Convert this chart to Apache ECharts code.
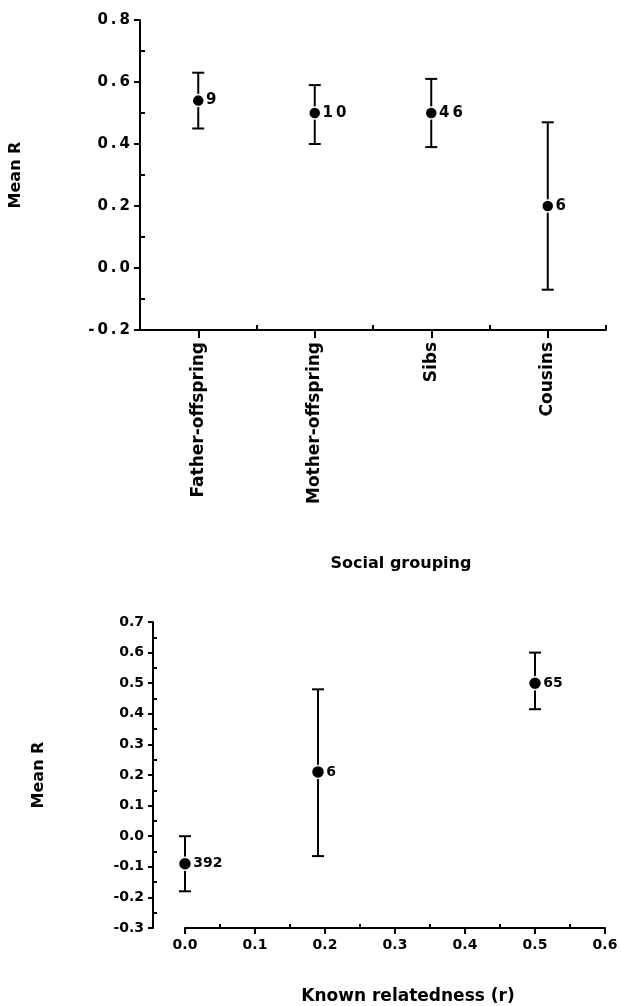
<!DOCTYPE html>
<html>
<head>
<meta charset="utf-8">
<script src="https://cdn.jsdelivr.net/npm/echarts@6/dist/echarts.min.js"></script>
<style>
  html, body { margin: 0; padding: 0; background: #fff; }
  #chart { width: 621px; height: 1006px; }
</style>
</head>
<body>
<div id="chart"></div>
<script>
// top panel: mean R by social grouping
const groups = ['Father-offspring', 'Mother-offspring', 'Sibs', 'Cousins']
const groupMean = [0.54, 0.50, 0.50, 0.20]
const groupLow = [0.45, 0.40, 0.39, -0.07]
const groupHigh = [0.63, 0.59, 0.61, 0.47]
const groupN = ['9', '10', '46', '6']

// bottom panel: mean R against known relatedness
const relR = [0.0, 0.19, 0.5]
const relMean = [-0.09, 0.21, 0.50]
const relLow = [-0.18, -0.065, 0.415]
const relHigh = [0.0, 0.48, 0.60]
const relN = ['392', '6', '65']

const ink = '#000'
const font = 'DejaVu Sans'
const spaced = (s) => String(s).split('').join('\u2009')

const chart = echarts.init(document.getElementById('chart'))

const errorBars = (xs, lows, highs, xi, yi) => ({
  type: 'custom',
  xAxisIndex: xi,
  yAxisIndex: yi,
  encode: { x: 0, y: [1, 2] },
  data: xs.map((x, i) => [x, lows[i], highs[i]]),
  z: 2,
  renderItem: (params, api) => {
    const lo = api.coord([api.value(0), api.value(1)])
    const hi = api.coord([api.value(0), api.value(2)])
    const w = 6
    const style = { stroke: ink, lineWidth: 2 }
    return {
      type: 'group',
      children: [
        { type: 'line', shape: { x1: lo[0], y1: lo[1], x2: hi[0], y2: hi[1] }, style },
        { type: 'line', shape: { x1: lo[0] - w, y1: lo[1], x2: lo[0] + w, y2: lo[1] }, style },
        { type: 'line', shape: { x1: hi[0] - w, y1: hi[1], x2: hi[0] + w, y2: hi[1] }, style }
      ]
    }
  }
})

const points = (xs, means, ns, xi, yi, size, fontSize, useSpace) => ({
  type: 'scatter',
  xAxisIndex: xi,
  yAxisIndex: yi,
  data: xs.map((x, i) => [x, means[i], ns[i]]),
  symbolSize: size,
  z: 3,
  itemStyle: { color: ink, borderColor: '#fff', borderWidth: 1.5, opacity: 1 },
  label: {
    show: true,
    position: 'right',
    distance: 1,
    color: ink,
    fontFamily: font,
    fontWeight: 'bold',
    fontSize: fontSize,
    formatter: (p) => (useSpace ? spaced(p.value[2]) : p.value[2])
  }
})

const lineStyle = { color: ink, width: 2 }
const labelBase = { color: ink, fontFamily: font, fontWeight: 'bold' }
const nameBase = { color: ink, fontFamily: font, fontWeight: 'bold' }

const option = {
  backgroundColor: '#fff',
  animation: false,
  grid: [
    { left: 138, top: 20, width: 468, height: 310, containLabel: false },
    { left: 185, top: 622, width: 420, height: 306, containLabel: false }
  ],
  xAxis: [
    {
      type: 'category',
      gridIndex: 0,
      position: 'bottom',
      data: groups,
      boundaryGap: true,
      axisLine: { onZero: false, lineStyle },
      axisTick: { show: true, alignWithLabel: true, length: 8, lineStyle },
      axisLabel: { ...labelBase, fontSize: 17, rotate: 90, margin: 12, interval: 0 },
      splitLine: { show: false },
      name: 'Social grouping',
      nameLocation: 'middle',
      nameGap: 226,
      nameTextStyle: { ...nameBase, fontSize: 16, padding: [0, 0, 0, 56] }
    },
    {
      // small upward ticks on the group boundaries
      type: 'value',
      gridIndex: 0,
      position: 'bottom',
      min: 0,
      max: groups.length,
      interval: 1,
      axisLine: { show: false, onZero: false },
      axisTick: { show: true, inside: true, length: 5, lineStyle },
      axisLabel: { show: false },
      splitLine: { show: false }
    },
    {
      type: 'value',
      gridIndex: 1,
      position: 'bottom',
      min: 0,
      max: 0.6,
      interval: 0.1,
      axisLine: { onZero: false, lineStyle },
      axisTick: { length: 6, lineStyle },
      axisLabel: { ...labelBase, fontSize: 14, margin: 10, formatter: (v) => v.toFixed(1) },
      splitLine: { show: false },
      name: 'Known relatedness (r)',
      nameLocation: 'middle',
      nameGap: 60,
      nameTextStyle: { ...nameBase, fontSize: 17, padding: [0, 0, 0, 26] }
    },
    {
      type: 'value',
      gridIndex: 1,
      position: 'bottom',
      min: 0,
      max: 0.6,
      interval: 0.1,
      axisLine: { show: false, onZero: false },
      axisTick: { show: false, inside: true },
      minorTick: { show: true, splitNumber: 2, length: 4, lineStyle },
      axisLabel: { show: false },
      splitLine: { show: false },
      minorSplitLine: { show: false }
    }
  ],
  yAxis: [
    {
      type: 'value',
      gridIndex: 0,
      position: 'left',
      min: -0.2,
      max: 0.8,
      interval: 0.2,
      axisLine: { show: true, onZero: false, lineStyle },
      axisTick: { show: true, length: 6, lineStyle },
      axisLabel: { ...labelBase, fontSize: 15, margin: 10, formatter: (v) => spaced(v.toFixed(1)) },
      splitLine: { show: false },
      name: 'Mean R',
      nameLocation: 'middle',
      nameRotate: 90,
      nameGap: 116,
      nameTextStyle: { ...nameBase, fontSize: 16 }
    },
    {
      type: 'value',
      gridIndex: 0,
      position: 'left',
      min: -0.2,
      max: 0.8,
      interval: 0.2,
      axisLine: { show: false, onZero: false },
      axisTick: { show: false, inside: true },
      minorTick: { show: true, splitNumber: 2, length: 5, lineStyle },
      axisLabel: { show: false },
      splitLine: { show: false },
      minorSplitLine: { show: false }
    },
    {
      type: 'value',
      gridIndex: 1,
      position: 'left',
      offset: 32,
      min: -0.3,
      max: 0.7,
      interval: 0.1,
      axisLine: { show: true, onZero: false, lineStyle },
      axisTick: { show: true, length: 5, lineStyle },
      axisLabel: { ...labelBase, fontSize: 14, margin: 9, formatter: (v) => v.toFixed(1) },
      splitLine: { show: false },
      name: 'Mean R',
      nameLocation: 'middle',
      nameRotate: 90,
      nameGap: 106,
      nameTextStyle: { ...nameBase, fontSize: 16 }
    },
    {
      type: 'value',
      gridIndex: 1,
      position: 'left',
      offset: 32,
      min: -0.3,
      max: 0.7,
      interval: 0.1,
      axisLine: { show: false, onZero: false },
      axisTick: { show: false, inside: true },
      minorTick: { show: true, splitNumber: 2, length: 4, lineStyle },
      axisLabel: { show: false },
      splitLine: { show: false },
      minorSplitLine: { show: false }
    }
  ],
  series: [
    errorBars(groups, groupLow, groupHigh, 0, 0),
    points(groups, groupMean, groupN, 0, 0, 12, 15, true),
    errorBars(relR, relLow, relHigh, 2, 2),
    points(relR, relMean, relN, 2, 2, 13, 14, false)
  ]
}

chart.setOption(option)
</script>
</body>
</html>
